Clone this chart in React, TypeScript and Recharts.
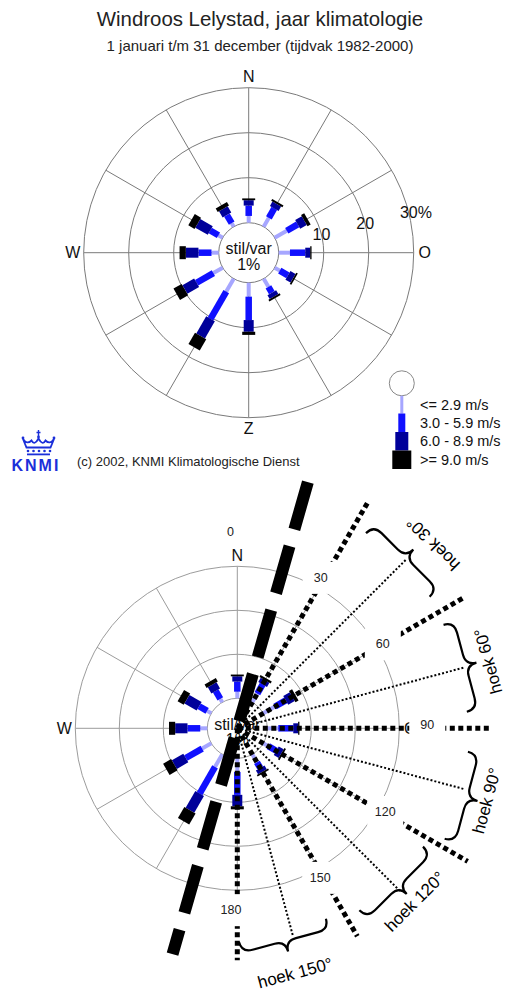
import React from "react";
import {
  RadialBarChart,
  RadialBar,
  PolarGrid,
  PolarAngleAxis,
  PolarRadiusAxis,
  ComposedChart,
  Line,
  Scatter,
  XAxis,
  YAxis,
} from "recharts";

// windrichting in graden (0 = N, 90 = O)
const directions = [0, 30, 60, 90, 120, 150, 180, 210, 240, 270, 300, 330];
const speedLow = [1.5, 2.3, 3.1, 2.5, 1.3, 2.1, 3.1, 3.3, 2.4, 1.6, 1.1, 0.9];
const speedMid = [2.3, 2.4, 2.8, 3.4, 2.1, 1.5, 5.2, 7.0, 4.3, 2.9, 2.1, 2.1];
const speedHigh = [1.2, 1.1, 1.7, 1.1, 1.3, 1.0, 2.6, 4.4, 3.0, 2.8, 3.2, 1.6];
const speedStorm = [0.4, 0.5, 0.8, 0.3, 0.4, 0.4, 0.7, 2.9, 2.1, 1.4, 1.6, 0.9];
const calmLabel = ["stil/var", "1%"];
const speedClasses = ["<= 2.9 m/s", "3.0 - 5.9 m/s", "6.0 - 8.9 m/s", ">= 9.0 m/s"];
const radiusTicks = [0, 10, 20, 30];
const compassTop: Record<number, string> = { 0: "N", 90: "O", 180: "Z", 270: "W" };
const compassBottom: Record<number, string> = { 0: "N", 90: "O", 270: "W" };

// tweede figuur: hulplijnen en hoeken
const boundaryAngles = [30, 60, 90, 120, 150, 180];
const bisectorAngles = [45, 75, 105, 135, 165];
const hoekLabels = ["hoek 30°", "hoek 60°", "hoek 90°", "hoek 120°", "hoek 150°"];
const angleTickLabels = ["0", "30", "60", "90", "120", "150", "180"];
const angleTickBearings = [-2, 29, 60, 89, 119.5, 151, 182];
const axisLineBearing = 16;

// lengtes / afstanden van de hulplijnen (in px vanaf het middelpunt)
const boundaryLen = [260, 262, 252, 266, 240, 232];
const bisectorLen = [239, 235, 235, 230, 215];
const angleTickRadius = [196, 172, 168, 190, 170, 171, 182];
const braceBearing = [44.5, 74.6, 107, 134.3, 167.4];
const braceRadius = [229, 226, 229, 215, 207];
const hoekBearing = [46.7, 75, 106.2, 134.3, 166.7];
const hoekRadius = [269.5, 260, 260, 248.3, 251.7];
const axisLineLen = [256, 235];

const FONT = '"Liberation Sans", Arial, Helvetica, sans-serif';
const RAD = Math.PI / 180;
const W = 507;
const TOP = { cx: 248.7, cy: 252.7, inner: 30, outer: 165, h: 480 };
const BOT = { top: 480, cx: 237.3, cy: 248.3, inner: 30, outer: 162, h: 512 };

const classStyle = [
  { key: "low", color: "#a6a6ff", width: 4 },
  { key: "mid", color: "#1010ff", width: 6.5 },
  { key: "high", color: "#00009a", width: 10 },
  { key: "storm", color: "#000000", width: 13 },
];

const roseData = directions.map((deg, i) => ({
  deg,
  low: speedLow[i],
  mid: speedMid[i],
  high: speedHigh[i],
  storm: speedStorm[i],
}));

const polar = (bearing: number, r: number) => ({
  x: r * Math.sin(bearing * RAD),
  y: r * Math.cos(bearing * RAD),
});

const barShape = (color: string, width: number) => (props: any) => {
  const { cx, cy, innerRadius, outerRadius, startAngle, endAngle } = props;
  const a = ((startAngle + endAngle) / 2) * RAD;
  const ux = Math.cos(a);
  const uy = -Math.sin(a);
  const nx = (-uy * width) / 2;
  const ny = (ux * width) / 2;
  const pts = [
    [innerRadius, 1],
    [outerRadius, 1],
    [outerRadius, -1],
    [innerRadius, -1],
  ]
    .map(([r, s]) => `${cx + ux * r + s * nx},${cy + uy * r + s * ny}`)
    .join(" ");
  return <polygon points={pts} fill={color} />;
};

const angleTick = (p: any, compass: Record<number, string>) => {
  const label = compass[p.payload.value];
  if (!label) return <g />;
  const a = p.payload.coordinate * RAD;
  return (
    <text
      x={p.x + Math.cos(a) * 10}
      y={p.y - Math.sin(a) * 10}
      textAnchor="middle"
      dominantBaseline="central"
      fontSize={16}
      fontFamily={FONT}
      fill="#111"
    >
      {label}
    </text>
  );
};

const radiusTick = (p: any) => {
  const v = p.payload.value;
  if (!v) return <g />;
  const digits = String(v).length;
  const isLast = v === radiusTicks[radiusTicks.length - 1];
  return (
    <text
      x={p.x - digits * 4.45}
      y={p.y}
      textAnchor="start"
      dominantBaseline="central"
      fontSize={16}
      fontFamily={FONT}
      fill="#111"
    >
      {isLast ? `${v}%` : v}
    </text>
  );
};

function Rose({ cfg, grid, compass, radiusLabels }: any) {
  return (
    <RadialBarChart
      width={W}
      height={cfg.h}
      data={roseData}
      cx={cfg.cx}
      cy={cfg.cy}
      innerRadius={cfg.inner}
      outerRadius={cfg.outer}
      startAngle={90}
      endAngle={-270}
      layout="centric"
      margin={{ top: 0, right: 0, bottom: 0, left: 0 }}
    >
      <PolarGrid gridType="circle" stroke={grid} strokeWidth={1} />
      <PolarAngleAxis
        type="number"
        dataKey="deg"
        domain={[0, 360]}
        ticks={directions}
        axisLine={false}
        tickLine={false}
        tickSize={1}
        tick={(p: any) => angleTick(p, compass)}
      />
      <PolarRadiusAxis
        type="number"
        domain={[0, 30]}
        ticks={radiusTicks}
        angle={14}
        axisLine={false}
        tick={radiusLabels ? radiusTick : false}
      />
      {classStyle.map((s) => (
        <RadialBar
          key={s.key}
          dataKey={s.key}
          stackId="wind"
          isAnimationActive={false}
          shape={barShape(s.color, s.width)}
        />
      ))}
    </RadialBarChart>
  );
}

const ray = (bearing: number, len: number) => [{ x: 0, y: 0 }, polar(bearing, len)];

const tickPoints = angleTickLabels.map((label, i) => ({
  ...polar(angleTickBearings[i], angleTickRadius[i]),
  label,
}));
const bracePoints = bisectorAngles.map((deg, i) => ({
  ...polar(braceBearing[i], braceRadius[i]),
  rot: deg,
}));
const hoekPoints = hoekLabels.map((label, i) => ({
  ...polar(hoekBearing[i], hoekRadius[i]),
  rot: bisectorAngles[i] - 180,
  label,
}));
const axisLineData = [
  polar(axisLineBearing, axisLineLen[0]),
  polar(axisLineBearing + 180, axisLineLen[1]),
];

const tickBox = (p: any) => {
  const d = p.payload ?? p;
  return (
    <g>
      <rect x={p.cx - 18} y={p.cy - 16} width={36} height={32} fill="#fff" />
      <text
        x={p.cx}
        y={p.cy}
        textAnchor="middle"
        dominantBaseline="central"
        fontSize={12.5}
        fontFamily={FONT}
        fill="#222"
      >
        {d.label}
      </text>
    </g>
  );
};

const braceShape = (p: any) => {
  const d = p.payload ?? p;
  const w = 45;
  const h = 22;
  const q = h / 2;
  const path = `M ${-w} 0 Q ${-w} ${-q} ${-w + q} ${-q} L ${-q} ${-q} Q 0 ${-q} 0 ${-h} Q 0 ${-q} ${q} ${-q} L ${w - q} ${-q} Q ${w} ${-q} ${w} 0`;
  return (
    <path
      d={path}
      transform={`translate(${p.cx},${p.cy}) rotate(${d.rot})`}
      fill="none"
      stroke="#000"
      strokeWidth={2.2}
    />
  );
};

const hoekText = (p: any) => {
  const d = p.payload ?? p;
  return (
    <text
      x={p.cx}
      y={p.cy}
      transform={`rotate(${d.rot} ${p.cx} ${p.cy})`}
      textAnchor="middle"
      dominantBaseline="central"
      fontSize={17}
      fontFamily={FONT}
      fill="#000"
    >
      {d.label}
    </text>
  );
};

function Overlay() {
  return (
    <ComposedChart width={W} height={BOT.h} margin={{ top: 0, right: 0, bottom: 0, left: 0 }}>
      <XAxis type="number" dataKey="x" domain={[-BOT.cx, W - BOT.cx]} hide allowDataOverflow />
      <YAxis type="number" dataKey="y" domain={[BOT.cy - BOT.h, BOT.cy]} hide allowDataOverflow />
      {boundaryAngles.map((deg, i) => (
        <Line
          key={`b${deg}`}
          data={ray(deg, boundaryLen[i])}
          dataKey="y"
          type="linear"
          stroke="#000"
          strokeWidth={5}
          strokeDasharray="5 3.5"
          dot={false}
          activeDot={false}
          isAnimationActive={false}
        />
      ))}
      {bisectorAngles.map((deg, i) => (
        <Line
          key={`m${deg}`}
          data={ray(deg, bisectorLen[i])}
          dataKey="y"
          type="linear"
          stroke="#000"
          strokeWidth={2}
          strokeDasharray="2 2"
          dot={false}
          activeDot={false}
          isAnimationActive={false}
        />
      ))}
      <Line
        data={axisLineData}
        dataKey="y"
        type="linear"
        stroke="#000"
        strokeWidth={12}
        strokeDasharray="49 17.5"
        dot={false}
        activeDot={false}
        isAnimationActive={false}
      />
      <Scatter data={tickPoints} dataKey="y" shape={tickBox} isAnimationActive={false} />
      <Scatter data={bracePoints} dataKey="y" shape={braceShape} isAnimationActive={false} />
      <Scatter data={hoekPoints} dataKey="y" shape={hoekText} isAnimationActive={false} />
    </ComposedChart>
  );
}

function Decor() {
  const lg = { cx: 401.8, cy: 383.3, r: 12.5 };
  const barWidths = [3, 7, 13, 19];
  const rowTop = [lg.cy + lg.r, 413.5, 432, 450.5];
  const rowBottom = [413.5, 432, 450.5, 469];
  return (
    <svg width={W} height={992} style={{ position: "absolute", left: 0, top: 0 }} fontFamily={FONT}>
      <text x={260} y={26} textAnchor="middle" fontSize={20.4} fill="#222">
        Windroos Lelystad, jaar klimatologie
      </text>
      <text x={260} y={51} textAnchor="middle" fontSize={15} fill="#222">
        1 januari t/m 31 december (tijdvak 1982-2000)
      </text>

      <text x={TOP.cx} y={TOP.cy + 1.5} textAnchor="middle" fontSize={16} fill="#111">
        {calmLabel[0]}
      </text>
      <text x={TOP.cx} y={TOP.cy + 17} textAnchor="middle" fontSize={16} fill="#111">
        {calmLabel[1]}
      </text>
      <text x={BOT.cx} y={BOT.top + BOT.cy + 1.5} textAnchor="middle" fontSize={16} fill="#111">
        {calmLabel[0]}
      </text>
      <text x={BOT.cx} y={BOT.top + BOT.cy + 17} textAnchor="middle" fontSize={16} fill="#111">
        {calmLabel[1]}
      </text>

      {/* legenda */}
      <circle cx={lg.cx} cy={lg.cy} r={lg.r} fill="#fff" stroke="#888" strokeWidth={1} />
      {speedClasses.map((label, i) => (
        <g key={label}>
          <rect
            x={lg.cx - barWidths[i] / 2}
            y={rowTop[i]}
            width={barWidths[i]}
            height={rowBottom[i] - rowTop[i]}
            fill={classStyle[i].color}
          />
          <text
            x={420}
            y={(rowTop[i] + rowBottom[i]) / 2}
            dominantBaseline="central"
            fontSize={14.5}
            fill="#111"
          >
            {label}
          </text>
        </g>
      ))}

      {/* KNMI logo */}
      <g transform="translate(22,430)" stroke="#1b2fd9" fill="none" strokeWidth={1.8}>
        <path d="M16.5 0 V6 M14.5 2.5 H18.5" strokeWidth={1.4} />
        <path d="M1 9 Q5 15 9.5 10.5 Q12.5 16 16.5 8.5 Q20.5 16 23.5 10.5 Q28 15 32 9 L28.5 17.5 L4.5 17.5 Z" />
        <circle cx={1} cy={8} r={1.4} fill="#1b2fd9" stroke="none" />
        <circle cx={16.5} cy={7} r={1.4} fill="#1b2fd9" stroke="none" />
        <circle cx={32} cy={8} r={1.4} fill="#1b2fd9" stroke="none" />
        {[7, 12.5, 18, 23.5, 29].map((x) => (
          <circle key={x} cx={x - 1} cy={21} r={1.3} fill="#1b2fd9" stroke="none" />
        ))}
        <rect x={5} y={23.5} width={23} height={1.8} fill="#1b2fd9" stroke="none" />
      </g>
      <text x={11.5} y={471} fontSize={16} fontWeight="bold" letterSpacing={2} fill="#1b2fd9">
        KNMI
      </text>
      <text x={77} y={466} fontSize={13} fill="#222">
        (c) 2002, KNMI Klimatologische Dienst
      </text>
    </svg>
  );
}

export default function App() {
  return (
    <div
      style={{
        position: "absolute",
        left: 0,
        top: 0,
        width: W,
        height: 992,
        overflow: "hidden",
        background: "#fff",
        fontFamily: FONT,
      }}
    >
      <div style={{ position: "absolute", left: 0, top: 0 }}>
        <Rose cfg={TOP} grid="#7a7a7a" compass={compassTop} radiusLabels />
      </div>
      <div style={{ position: "absolute", left: 0, top: BOT.top }}>
        <Rose cfg={BOT} grid="#9c9c9c" compass={compassBottom} radiusLabels={false} />
      </div>
      <Decor />
      <div style={{ position: "absolute", left: 0, top: BOT.top }}>
        <Overlay />
      </div>
    </div>
  );
}
